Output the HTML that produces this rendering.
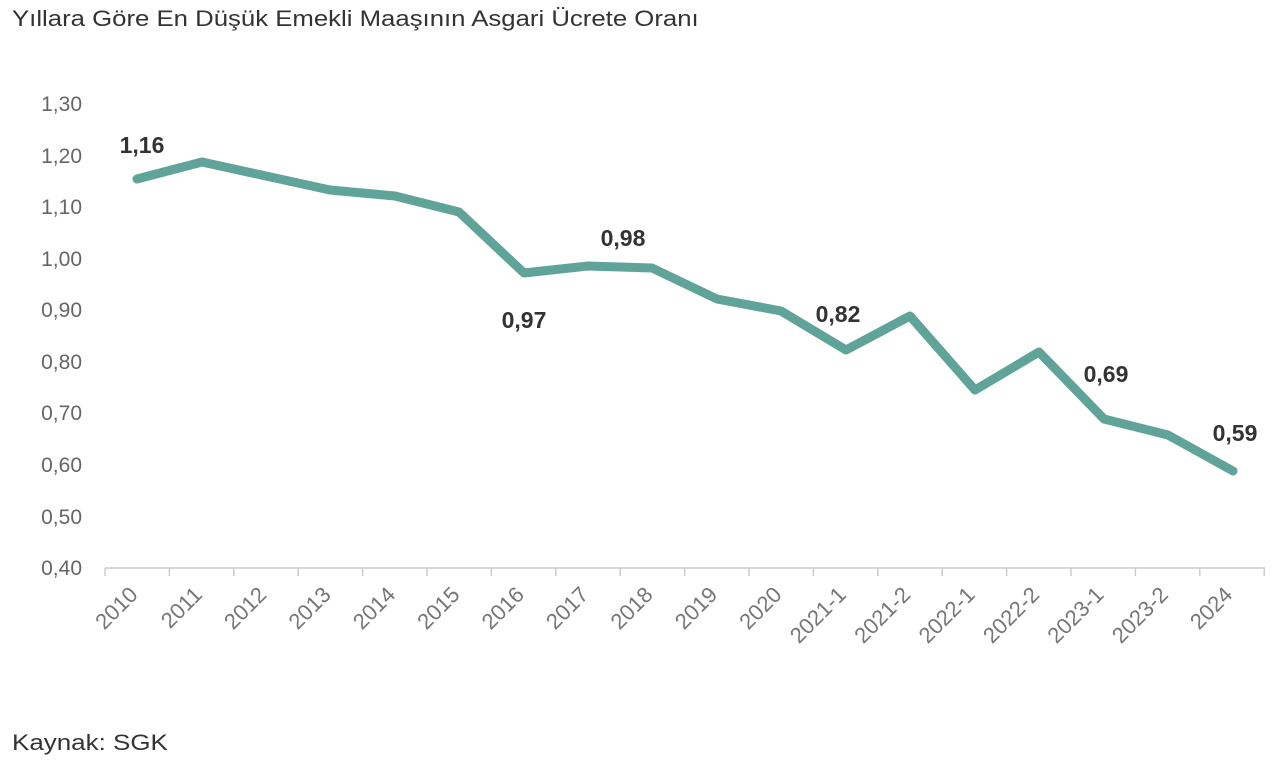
<!DOCTYPE html>
<html><head><meta charset="utf-8"><style>
body{margin:0;width:1274px;height:764px;background:#fff;overflow:hidden;font-family:"Liberation Sans",sans-serif;}
.t{position:absolute;left:12px;top:6px;font-size:22px;color:#333;transform:scaleX(1.17);transform-origin:left top;white-space:nowrap;}
.k{position:absolute;left:12px;top:730px;font-size:22px;color:#333;transform:scaleX(1.18);transform-origin:left top;white-space:nowrap;}
</style></head><body>
<div class="t">Yıllara Göre En Düşük Emekli Maaşının Asgari Ücrete Oranı</div>
<div class="k">Kaynak: SGK</div>
<svg width="1274" height="764" style="position:absolute;left:0;top:0" font-family="Liberation Sans, sans-serif">
<g fill="#666" font-size="21" text-anchor="end">
<text x="82" y="111">1,30</text><text x="82" y="163">1,20</text><text x="82" y="214">1,10</text><text x="82" y="266">1,00</text><text x="82" y="317">0,90</text><text x="82" y="369">0,80</text><text x="82" y="420">0,70</text><text x="82" y="472">0,60</text><text x="82" y="524">0,50</text><text x="82" y="575">0,40</text>
</g>
<line x1="105" y1="568" x2="1265" y2="568" stroke="#ccc" stroke-width="1.5"/>
<g stroke="#ccc" stroke-width="1.5">
<line x1="105" y1="568" x2="105" y2="576"/><line x1="169.4" y1="568" x2="169.4" y2="576"/><line x1="233.8" y1="568" x2="233.8" y2="576"/><line x1="298.2" y1="568" x2="298.2" y2="576"/><line x1="362.6" y1="568" x2="362.6" y2="576"/><line x1="427" y1="568" x2="427" y2="576"/><line x1="491.4" y1="568" x2="491.4" y2="576"/><line x1="555.8" y1="568" x2="555.8" y2="576"/><line x1="620.2" y1="568" x2="620.2" y2="576"/><line x1="684.6" y1="568" x2="684.6" y2="576"/><line x1="749" y1="568" x2="749" y2="576"/><line x1="813.4" y1="568" x2="813.4" y2="576"/><line x1="877.8" y1="568" x2="877.8" y2="576"/><line x1="942.2" y1="568" x2="942.2" y2="576"/><line x1="1006.6" y1="568" x2="1006.6" y2="576"/><line x1="1071" y1="568" x2="1071" y2="576"/><line x1="1135.4" y1="568" x2="1135.4" y2="576"/><line x1="1199.8" y1="568" x2="1199.8" y2="576"/><line x1="1264.2" y1="568" x2="1264.2" y2="576"/>
</g>
<g fill="#777" font-size="22" text-anchor="end">
<text transform="translate(139,596) rotate(-45)">2010</text>
<text transform="translate(203.4,596) rotate(-45)">2011</text>
<text transform="translate(267.8,596) rotate(-45)">2012</text>
<text transform="translate(332.2,596) rotate(-45)">2013</text>
<text transform="translate(396.6,596) rotate(-45)">2014</text>
<text transform="translate(461,596) rotate(-45)">2015</text>
<text transform="translate(525.4,596) rotate(-45)">2016</text>
<text transform="translate(589.8,596) rotate(-45)">2017</text>
<text transform="translate(654.2,596) rotate(-45)">2018</text>
<text transform="translate(718.6,596) rotate(-45)">2019</text>
<text transform="translate(783,596) rotate(-45)">2020</text>
<text transform="translate(847.4,596) rotate(-45)">2021-1</text>
<text transform="translate(911.8,596) rotate(-45)">2021-2</text>
<text transform="translate(976.2,596) rotate(-45)">2022-1</text>
<text transform="translate(1040.6,596) rotate(-45)">2022-2</text>
<text transform="translate(1105,596) rotate(-45)">2023-1</text>
<text transform="translate(1169.4,596) rotate(-45)">2023-2</text>
<text transform="translate(1233.8,596) rotate(-45)">2024</text>
</g>
<polyline fill="none" stroke="#5fa399" stroke-width="9" stroke-linejoin="round" stroke-linecap="round" points="137,179 202,162 266,176 330,190 395,196 459,212 524,273 588,266 652,268 717,299 781,311 846,350 910,316 975,390 1039,352 1104,419 1168,435 1233,471"/>
<g fill="#333" font-size="23" font-weight="bold" text-anchor="middle">
<text x="142" y="153">1,16</text><text x="623" y="246">0,98</text><text x="524" y="328">0,97</text><text x="838" y="322">0,82</text><text x="1106" y="382">0,69</text><text x="1235" y="441">0,59</text>
</g>
</svg>
</body></html>
